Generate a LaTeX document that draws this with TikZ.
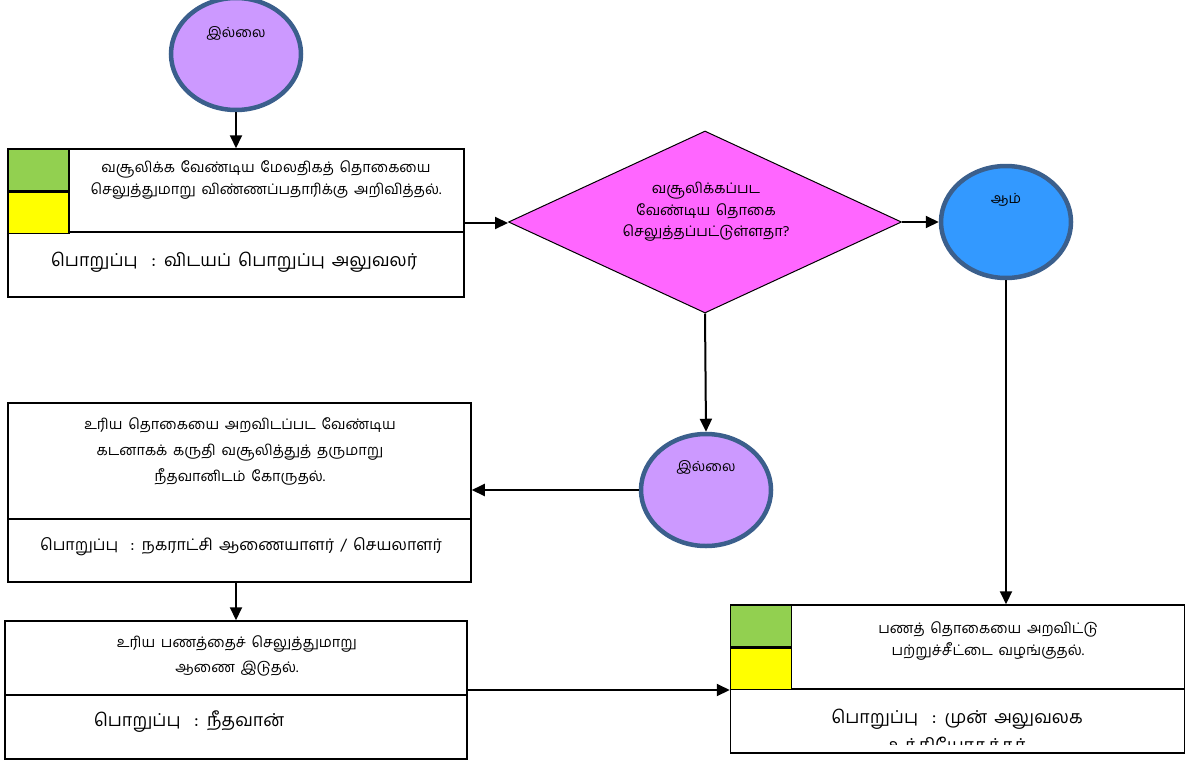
\documentclass[tikz,border=0pt]{standalone}
\usepackage{fontspec}
\newfontfamily\tamil[Script=Tamil,WordSpace=1.6]{Hind Madurai}
\usetikzlibrary{shapes.geometric,arrows.meta}
\definecolor{gr}{HTML}{92D050}
\definecolor{yl}{HTML}{FFFF00}
\definecolor{pu}{HTML}{CC99FF}
\definecolor{bl}{HTML}{3399FF}
\definecolor{mg}{HTML}{FF66FF}
\definecolor{rim}{HTML}{3B5F8C}
\tikzset{
  box/.style={draw=black,line width=1.5pt,fill=white,rectangle,inner sep=0pt},
  oval/.style={ellipse,draw=rim,line width=4.5pt,minimum width=130pt,minimum height=112pt,inner sep=0pt},
  dia/.style={diamond,draw=black,line width=1pt,fill=mg,minimum width=393pt,minimum height=182pt,inner sep=0pt},
  sq/.style={draw=black,line width=1.5pt,rectangle,minimum width=61pt,minimum height=41.5pt,inner sep=0pt},
  body/.style={font=\tamil\fontsize{14.6}{22}\selectfont,align=center,inner sep=0pt},
  bodyw/.style={font=\tamil\fontsize{14.6}{26}\selectfont,align=center,inner sep=0pt},
  resp/.style={font=\tamil\fontsize{17.8}{24}\selectfont,align=center,inner sep=0pt},
  lab/.style={font=\tamil\fontsize{14}{16}\selectfont,inner sep=0pt},
  arr/.style={draw=black,line width=2pt,-{Triangle[length=13pt,width=12pt]}},
}
\begin{document}
\begin{tikzpicture}[x=1pt,y=-1pt]
\useasboundingbox (0,0) rectangle (1185,760);
% top oval
\node[oval,fill=pu] (c1) at (236,54) {};
\node[lab] (c1t) at (236,33) {இல்லை};
% box 1
\node[box,minimum width=456pt,minimum height=148pt] (b1) at (236,223) {};
\draw[line width=1.5pt] (b1.west |- 0,232) -- (b1.east |- 0,232);
\node[sq,fill=gr,anchor=north west] (g1) at (b1.north west) {};
\node[sq,fill=yl,anchor=north] (y1) at (g1.south) {};
\node[body] (b1t) at (266,180) {வசூலிக்க வேண்டிய மேலதிகத் தொகையை\\செலுத்துமாறு விண்ணப்பதாரிக்கு அறிவித்தல்.};
\node[resp] (b1r) at (234,262) {பொறுப்பு \ : விடயப் பொறுப்பு அலுவலர்};
% diamond
\node[dia] (d) at (705,222) {};
\node[body,font=\tamil\fontsize{14.6}{21.5}\selectfont] (dt) at (706,212) {வசூலிக்கப்பட\\வேண்டிய தொகை\\செலுத்தப்பட்டுள்ளதா?};
% yes oval
\node[oval,fill=bl] (c2) at (1006,222) {};
\node[lab] (c2t) at (1006,200) {ஆம்};
% no oval
\node[oval,fill=pu] (c3) at (706,490) {};
\node[lab] (c3t) at (706,467) {இல்லை};
% box 2
\node[box,minimum width=463pt,minimum height=179pt] (b2) at (239.5,492.5) {};
\draw[line width=1.5pt] (b2.west |- 0,519) -- (b2.east |- 0,519);
\node[bodyw] (b2t) at (240,451) {உரிய தொகையை அறவிடப்பட வேண்டிய\\கடனாகக் கருதி வசூலித்துத் தருமாறு\\நீதவானிடம் கோருதல்.};
\node[resp,font=\tamil\fontsize{16}{22}\selectfont] (b2r) at (241,547) {பொறுப்பு \ : நகராட்சி ஆணையாளர் / செயலாளர்};
% box 3
\node[box,minimum width=462pt,minimum height=138pt] (b3) at (236,690) {};
\draw[line width=1.5pt] (b3.west |- 0,695) -- (b3.east |- 0,695);
\node[body,font=\tamil\fontsize{14.6}{25}\selectfont] (b3t) at (237,655.5) {உரிய பணத்தைச் செலுத்துமாறு\\ஆணை இடுதல்.};
\node[resp] (b3r) at (189,722) {பொறுப்பு \ : நீதவான்};
% box 4
\node[box,minimum width=454pt,minimum height=148pt] (b4) at (957.5,679) {};
\draw[line width=1.5pt] (b4.west |- 0,689) -- (b4.east |- 0,689);
\node[sq,fill=gr,anchor=north west] (g4) at (b4.north west) {};
\node[sq,fill=yl,anchor=north] (y4) at (g4.south) {};
\node[body] (b4t) at (988,641) {பணத் தொகையை அறவிட்டு\\பற்றுச்சீட்டை வழங்குதல்.};
\begin{scope}
\clip (731,690) rectangle (1184,744);
\node[resp,font=\tamil\fontsize{17.8}{28}\selectfont] (b4r) at (957,732) {பொறுப்பு \ : முன் அலுவலக\\உத்தியோகத்தர்};
\end{scope}
% connectors
\draw[arr] (c1.south) -- (b1.north);
\draw[arr] (b1.east) -- (b1.east -| d.west);
\draw[arr] (d.east) -- (c2.west);
\draw[arr] (c2.south) -- (c2.south |- b4.north);
\draw[arr] (d.south) -- (c3.north);
\draw[arr] (c3.west) -- (c3.west -| b2.east);
\draw[arr] (b3.north |- b2.south) -- (b3.north);
\draw[arr] (b3.east) -- (b3.east -| b4.west);
\end{tikzpicture}
\end{document}
